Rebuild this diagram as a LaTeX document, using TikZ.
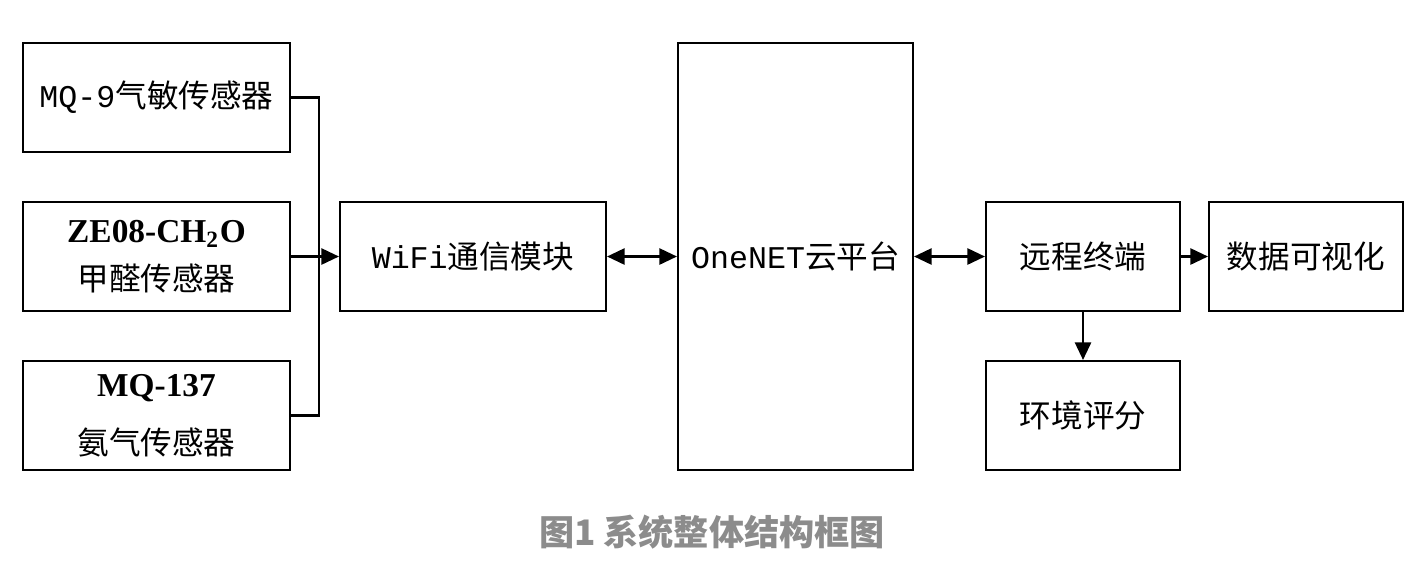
\documentclass[tikz,border=0pt]{standalone}
\usepackage{fontspec}
\setmainfont{Liberation Serif}
\newfontfamily\cjk{Noto Sans CJK SC}
\newfontfamily\mono{Liberation Mono}
\usepackage{xcolor}
\usepackage{tikz}
\usetikzlibrary{arrows.meta}
\definecolor{capgray}{RGB}{140,140,140}

\begin{document}
\begin{tikzpicture}[
    box/.style={draw=black,line width=0.6pt,inner sep=0pt,align=center,
      minimum width=#1,minimum height=1.09cm,
      font=\fontsize{9pt}{13.6pt}\selectfont},
    box/.default=2.67cm,
    link/.style={line width=0.6pt},
    tip/.style={-{Triangle[length=5pt,width=4.6pt]}},
    tips/.style={{Triangle[length=5pt,width=4.6pt]}-{Triangle[length=5pt,width=4.6pt]}}
  ]
    \useasboundingbox (0,0) rectangle (14.24,-5.68);
    \node[box] (mqnine) at (1.565,-0.975) {{\mono MQ-9}{\cjk 气敏传感器}};
    \node[box] (ze) at (1.565,-2.565) {\textbf{\fontsize{9.5pt}{13.6pt}\selectfont ZE08-CH\textsubscript{2}O}\\{\cjk 甲醛传感器}};
    \node[box] (mqammonia) at (1.565,-4.155) {\textbf{\fontsize{9.5pt}{13.6pt}\selectfont MQ-137}\\[3pt]{\cjk 氨气传感器}};
    \node[box=2.66cm] (wifi) at (4.73,-2.565) {{\mono WiFi}{\cjk 通信模块}};
    \node[box=2.35cm,minimum height=4.27cm] (onenet) at (7.955,-2.565) {{\mono OneNET}{\cjk 云平台}};
    \node[box=1.94cm] (remote) at (10.83,-2.565) {{\cjk 远程终端}};
    \node[box=1.94cm] (visual) at (13.06,-2.565) {{\cjk 数据可视化}};
    \node[box=1.94cm] (score) at (10.83,-4.155) {{\cjk 环境评分}};
    \coordinate (bus) at (3.19,-2.565);
    \draw[link] (mqnine.east) -| (bus);
    \draw[link] (mqammonia.east) -| (bus);
    \draw[link,tip] (ze.east) -- (wifi.west);
    \draw[link,tips] (wifi.east) -- (onenet.west);
    \draw[link,tips] (onenet.east) -- (remote.west);
    \draw[link,tip] (remote.east) -- (visual.west);
    \draw[link,tip] (remote.south) -- (score.north);
    \node[text=capgray,font=\cjk\bfseries\fontsize{10pt}{12pt}\selectfont] (caption) at (7.12,-5.32) {图1 系统整体结构框图};
  \end{tikzpicture}
\end{document}
